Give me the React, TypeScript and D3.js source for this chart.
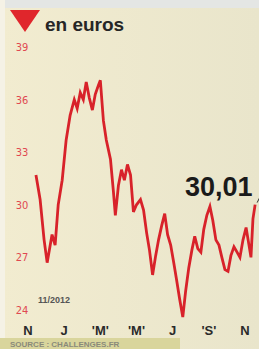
import * as d3 from 'd3';
import { type FC } from 'react';

// month index: 0 = Nov 2012, 1 = Dec 2012, ... 12 = Nov 2013
const monthPos = [
  0.44, 0.67, 0.89, 1.06, 1.33, 1.5, 1.67, 1.89, 2.11, 2.33, 2.56, 2.72,
  2.89, 3.06, 3.22, 3.39, 3.56, 3.72, 3.89, 4.0, 4.17, 4.33, 4.56, 4.72,
  4.83, 5.0, 5.17, 5.33, 5.5, 5.67, 5.83, 6.0, 6.22, 6.39, 6.56, 6.72,
  6.89, 7.06, 7.22, 7.39, 7.56, 7.72, 7.89, 8.06, 8.22, 8.39, 8.56, 8.72,
  8.89, 9.06, 9.22, 9.39, 9.56, 9.72, 9.89, 10.06, 10.22, 10.39, 10.56,
  10.72, 10.89, 11.06, 11.22, 11.39, 11.56, 11.72, 11.89, 12.06, 12.22,
  12.33, 12.44, 12.56,
];
const prices = [
  31.7, 30.3, 28.0, 26.7, 28.3, 27.7, 30.0, 31.4, 33.7, 35.1, 36.0, 35.5,
  36.4, 36.0, 37.0, 36.1, 35.4, 36.3, 36.8, 37.1, 34.8, 33.7, 32.6, 30.8,
  29.4, 31.1, 32.0, 31.4, 32.3, 31.7, 29.6, 30.0, 30.3, 29.7, 28.4, 27.4,
  26.0, 27.1, 28.0, 28.8, 29.5, 28.3, 27.7, 26.7, 25.7, 24.6, 23.6, 25.1,
  26.4, 27.4, 28.2, 27.5, 27.3, 28.6, 29.4, 29.9, 29.1, 28.0, 27.7, 27.0,
  26.3, 26.2, 27.1, 27.6, 27.3, 27.0, 28.0, 28.7, 27.7, 27.0, 29.2, 30.01,
];
const yTicks = [24, 27, 30, 33, 36, 39];
const monthTicks = [0, 2, 4, 6, 8, 10, 12];
const monthLabels = ['N', 'J', "'M'", "'M'", 'J', "'S'", 'N'];
const lastLabel = '30,01';

const W = 259;
const H = 349;

const App: FC = () => {
  const x = d3.scaleLinear().domain([0, 12]).range([28, 245]);
  const y = d3.scaleLinear().domain([24, 39]).range([310, 47]);

  const pts = monthPos.map((m, i) => [m, prices[i]] as [number, number]);
  const line = d3
    .line<[number, number]>()
    .x((d) => x(d[0]))
    .y((d) => y(d[1]));

  const last = pts[pts.length - 1];

  return (
    <div style={{ position: 'fixed', left: 0, top: 0 }}>
      <svg width={W} height={H} style={{ display: 'block' }}>
        <defs>
          <linearGradient id="bg" x1="0" x2="1" y1="0" y2="0">
            <stop offset="0" stopColor="#f2ecd0" />
            <stop offset="1" stopColor="#e9e5cb" />
          </linearGradient>
        </defs>
        <rect x={0} y={0} width={W} height={H} fill="url(#bg)" />
        <rect x={0} y={0} width={W} height={8} fill="#e4e6e4" />
        <rect x={0} y={0} width={5} height={H} fill="#f5f2e6" />

        {/* title */}
        <path d="M10,10 L40,10 L25,32 Z" fill="#e0262c" />
        <text
          x={45}
          y={31}
          fontFamily="Liberation Sans, Arial, sans-serif"
          fontWeight="bold"
          fontSize={19}
          fill="#262626"
        >
          en euros
        </text>

        {/* y ticks */}
        {yTicks.map((t) => (
          <text
            key={t}
            x={22}
            y={y(t) + 4}
            textAnchor="middle"
            fontFamily="DejaVu Sans Condensed, Liberation Sans Narrow, sans-serif"
            fontSize={11}
            fill="#e04850"
          >
            {t}
          </text>
        ))}

        <text
          x={38}
          y={303}
          fontFamily="Liberation Sans, Arial, sans-serif"
          fontWeight="bold"
          fontSize={9}
          fill="#555"
        >
          11/2012
        </text>

        {/* price line */}
        <path
          d={line(pts) || ''}
          fill="none"
          stroke="#d8222a"
          strokeWidth={2.8}
          strokeLinejoin="miter"
        />
        <line
          x1={x(last[0]) + 2}
          y1={y(last[1]) - 2}
          x2={x(last[0]) + 5}
          y2={y(last[1]) - 8}
          stroke="#333"
          strokeWidth={1}
        />
        <text
          x={185}
          y={196}
          fontFamily="Liberation Sans, Arial, sans-serif"
          fontWeight="bold"
          fontSize={27}
          fill="#1a1a1a"
        >
          {lastLabel}
        </text>

        {/* month labels */}
        {monthTicks.map((m, i) => (
          <text
            key={i}
            x={x(m)}
            y={335}
            textAnchor="middle"
            fontFamily="Liberation Sans, Arial, sans-serif"
            fontWeight="bold"
            fontSize={13}
            fill="#2a2a2a"
          >
            {monthLabels[i]}
          </text>
        ))}

        {/* source */}
        <rect x={0} y={338} width={180} height={11} fill="#d9d59c" />
        <text
          x={10}
          y={347}
          fontFamily="Liberation Sans, Arial, sans-serif"
          fontWeight="bold"
          fontSize={8}
          fill="#8a8a7a"
        >
          SOURCE : CHALLENGES.FR
        </text>
      </svg>
    </div>
  );
};

export default App;
